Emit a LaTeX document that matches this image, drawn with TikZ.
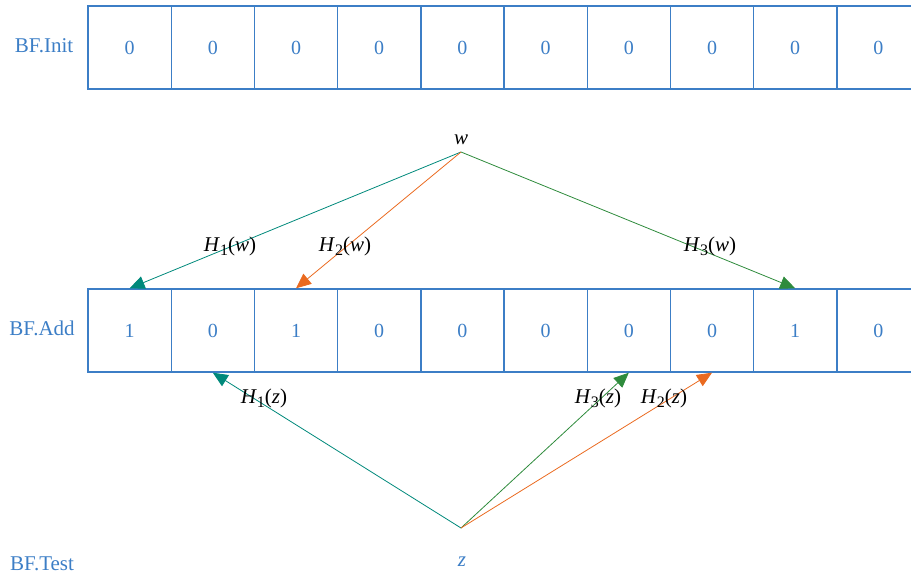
\documentclass[tikz,border=0pt]{standalone}
\usepackage{fontspec}
\setmainfont{Liberation Serif}
\usetikzlibrary{arrows.meta}
\definecolor{cellblue}{HTML}{3C7EC6}
\definecolor{tealc}{HTML}{00897B}
\definecolor{orangec}{HTML}{EA6A20}
\definecolor{greenc}{HTML}{2E8B3C}
\tikzset{
  cell/.style={draw=cellblue, line width=1.4pt, minimum width=83.2pt, minimum height=83pt,
    inner sep=0pt, text=cellblue, font=\fontsize{20}{22}\selectfont},
  rowlabel/.style={text=cellblue, font=\fontsize{21}{24}\selectfont},
  hlabel/.style={font=\fontsize{21}{24}\selectfont, inner sep=1pt},
  harrow/.style={line width=0.8pt, -{Triangle[length=15pt,width=13pt]}},
}
\newcommand{\hl}[2]{\textit{H}\raisebox{-0.45ex}{\fontsize{16}{18}\selectfont #1}(\textit{#2})}
\begin{document}
\begin{tikzpicture}[x=1pt,y=-1pt]
\useasboundingbox (0,0) rectangle (911,578);
% rows
\foreach \v [count=\i] in {0,0,0,0,0,0,0,0,0,0}
  \node[cell] (i\i) at ({88+83.2*(\i-0.5)},47.5) {\v};
\foreach \v [count=\i] in {1,0,1,0,0,0,0,0,1,0}
  \node[cell] (a\i) at ({88+83.2*(\i-0.5)},330.5) {\v};
% row labels
\node[rowlabel] (linit) at (44,46) {BF.Init};
\node[rowlabel] (ladd) at (42,328) {BF.Add};
\node[rowlabel] (ltest) at (42,564) {BF.Test};
% w and z
\node[font=\fontsize{21}{24}\selectfont\itshape, inner sep=0pt] (w) at (461,140) {w};
\coordinate (wp) at (461,152);
\node[font=\fontsize{21}{24}\selectfont\itshape, text=cellblue, inner sep=0pt] (z) at (462,562) {z};
\coordinate (zp) at (461,528);
% arrows from w
\draw[harrow, tealc] (wp) -- (a1.north);
\draw[harrow, orangec] (wp) -- (a3.north);
\draw[harrow, greenc] (wp) -- (a9.north);
% arrows from z
\draw[harrow, tealc] (zp) -- (a2.south);
\draw[harrow, greenc] (zp) -- (a7.south);
\draw[harrow, orangec] (zp) -- (a8.south);
% labels
\node[hlabel] (h1w) at (230,246) {\hl{1}{w}};
\node[hlabel] (h2w) at (345,246) {\hl{2}{w}};
\node[hlabel] (h3w) at (710,246) {\hl{3}{w}};
\node[hlabel] (h1z) at (264,398) {\hl{1}{z}};
\node[hlabel] (h3z) at (598,398) {\hl{3}{z}};
\node[hlabel] (h2z) at (664,398) {\hl{2}{z}};
\end{tikzpicture}
\end{document}
